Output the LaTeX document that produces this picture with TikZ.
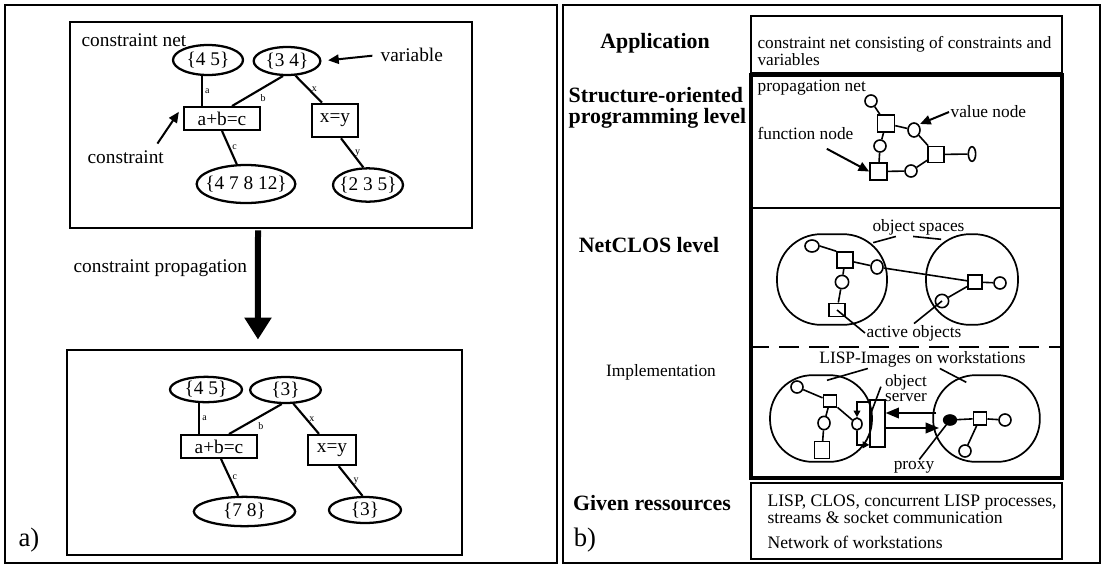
\documentclass[tikz,border=0pt]{standalone}
\usepackage{fontspec}
\setmainfont{Liberation Serif}
\usetikzlibrary{shapes.geometric,arrows.meta}

\begin{document}
\begin{tikzpicture}[x=0.75pt,y=-0.75pt,
        every node/.style={font=\fontsize{13}{13}\selectfont,inner sep=1pt},
        txt/.style={font=\fontsize{14.5}{15}\selectfont},
        panel/.style={draw,line width=1.4pt},
        var/.style={draw,ellipse,line width=1.7pt,inner sep=0pt},
        vtext/.style={label={[font=\fontsize{14.5}{15}\selectfont]center:#1}},
        cons/.style={draw,line width=1.7pt,inner sep=0pt,font=\fontsize{14.5}{15}\selectfont},
        link/.style={line width=1.6pt},
        lbl/.style={font=\fontsize{7.5}{8}\selectfont,inner sep=1.5pt},
        ptr/.style={line width=1.5pt,-{Triangle[length=8pt,width=7pt]}},
        ptrb/.style={line width=1.3pt,-{Triangle[length=10pt,width=8pt]}},
        big/.style={line width=4.5pt,-{Triangle[length=16.5pt,width=19.5pt]}},
        lvl/.style={font=\fontsize{16.4}{15.5}\selectfont\bfseries,align=left},
        obj/.style={draw,ellipse,line width=1.2pt,inner sep=0pt,minimum width=9pt,minimum height=9pt},
        fn/.style={draw,line width=1.2pt,inner sep=0pt,minimum size=11pt},
        ospace/.style={draw,line width=1.3pt,rounded corners=33pt},
        tie/.style={line width=1.2pt}]
    \useasboundingbox (0,0) rectangle (1104,569);

    % a) constraint net before and after propagation
    \draw[panel] (5,5) rectangle (557,563);
    \node[draw,line width=1.7pt,minimum width=301.5pt,minimum height=154.5pt] (net1) at (271,125) {};
    \node[draw,line width=1.7pt,minimum width=296.25pt,minimum height=153.75pt] (net2) at (264.5,452.5) {};

    \node[txt,anchor=west] (cnet) at (80,40) {constraint net};
    \node[var,vtext={\{4 5\}},minimum width=52.5pt,minimum height=22.5pt] (v45) at (208,60) {};
    \node[var,vtext={\{3 4\}},minimum width=50pt,minimum height=21pt] (v34) at (287,61) {};
    \node[txt,anchor=west] (varl) at (379,55) {variable};
    \node[cons,minimum width=57pt,minimum height=17pt] (add) at (222,118.5) {a+b=c};
    \node[cons,minimum width=34.5pt,minimum height=25pt] (eq) at (335,120.5) {x=y};
    \node[var,vtext={\{4 7 8 12\}},minimum width=74pt,minimum height=28.5pt] (v4812) at (246,184) {};
    \node[var,vtext={\{2 3 5\}},minimum width=52.5pt,minimum height=25pt] (v235) at (368,185) {};
    \node[txt,anchor=west] (conl) at (86,157) {constraint};

    \draw[link] ([xshift=-4.5pt]v45.south) -- ([xshift=-4.5pt]v45.south |- add.north) node[lbl,midway,right] {a};
    \draw[link] (v34.255) -- ([xshift=7.5pt]add.north) node[lbl,midway,below right] {b};
    \draw[link] (v34.300) -- ([xshift=-9.75pt]eq.north) node[lbl,midway,right] {x};
    \draw[link] (add.south) -- (v4812.115) node[lbl,midway,right] {c};
    \draw[link] ([xshift=4.5pt]eq.south) -- (v235.105) node[lbl,midway,right] {y};
    \draw[ptr] ([xshift=-6pt,yshift=4pt]conl.north east) -- ([xshift=-3pt,yshift=5pt]add.west);
    \draw[ptr,shorten <=5pt,shorten >=5pt] (varl.west) -- (v34.east);

    \draw[big,shorten <=1pt,shorten >=7pt] ([xshift=-9.75pt]net1.south) -- ([xshift=-4.9pt]net2.north);
    \node[txt,anchor=west] (propl) at (72,268) {constraint propagation};

    \node[var,vtext={\{4 5\}},minimum width=54pt,minimum height=19pt] (w45) at (206,389.5) {};
    \node[var,vtext={\{3\}},minimum width=53pt,minimum height=19.5pt] (w3) at (285.5,390) {};
    \node[cons,minimum width=57pt,minimum height=17pt] (add2) at (219,446.5) {a+b=c};
    \node[cons,minimum width=36pt,minimum height=22.5pt] (eq2) at (332,450) {x=y};
    \node[var,vtext={\{7 8\}},minimum width=76pt,minimum height=22pt] (w78) at (244.5,511.5) {};
    \node[var,vtext={\{3\}},minimum width=54pt,minimum height=19.5pt] (w3b) at (365,510) {};

    \draw[link] ([xshift=-5pt]w45.south) -- ([xshift=-5pt]w45.south |- add2.north) node[lbl,midway,right] {a};
    \draw[link] (w3.255) -- ([xshift=7.5pt]add2.north) node[lbl,midway,below right] {b};
    \draw[link] (w3.300) -- ([xshift=-9.75pt]eq2.north) node[lbl,midway,right] {x};
    \draw[link] ([xshift=1.5pt]add2.south) -- (w78.112) node[lbl,midway,right] {c};
    \draw[link] ([xshift=5pt]eq2.south) -- (w3b.100) node[lbl,midway,right] {y};

    \node[font=\fontsize{20}{20}\selectfont] (pa) at (29,540) {a)};

    % b) layers of the system
    \draw[panel] (563,5) rectangle (1100,563);

    \node[lvl] (lapp) at (655,43) {Application};
    \node[lvl,anchor=west] (lstr) at (567,108) {Structure-oriented\\programming level};
    \node[lvl] (lnet) at (649,245) {NetCLOS level};
    \node (limp) at (661,372) {Implementation};
    \node[lvl] (lgiv) at (652,503) {Given ressources};
    \node[font=\fontsize{20}{20}\selectfont] (pb) at (585,540) {b)};

    \node[draw,line width=1.2pt,minimum width=233.25pt,minimum height=42.75pt] (appbox) at (906.5,44.5) {};
    \node[anchor=west,align=left,font=\fontsize{12.9}{12.75}\selectfont] (appt) at (756,51) {constraint net consisting of constraints and\\variables};

    \node[draw,line width=2.6pt,minimum width=233.25pt,minimum height=302.25pt] (impl) at (906.5,276.5) {};
    \draw[line width=1.4pt] (impl.west |- 0,208) -- (impl.east |- 0,208);
    \draw[line width=1.4pt,dash pattern=on 15pt off 7.5pt] (impl.west |- 0,347) -- (impl.east |- 0,347);

    \node[draw,line width=1.2pt,minimum width=233.25pt,minimum height=57pt] (givbox) at (906.5,521) {};
    \node[anchor=west,align=left,font=\fontsize{13.2}{11.5}\selectfont] (givt) at (766,522) {LISP, CLOS, concurrent LISP processes,\\streams \& socket communication\\[7.25pt]Network of workstations};

    % propagation net
    \node[anchor=west] (pnet) at (756,88) {propagation net};
    \node[anchor=west] (vnode) at (949,112) {value node};
    \node[anchor=west] (fnode) at (756,133) {function node};
    \node[obj] (c1) at (871,101) {};
    \node[fn,minimum size=12.75pt] (s1) at (886,123.5) {};
    \node[obj,minimum height=10.5pt] (c2) at (914,130) {};
    \node[obj] (c3) at (880,146) {};
    \node[fn,minimum size=12pt] (s2) at (936,154.5) {};
    \node[obj,minimum width=5.5pt,minimum height=11pt] (c4) at (972,154) {};
    \node[fn,minimum size=12.75pt] (s3) at (878.5,171.5) {};
    \node[obj] (c5) at (911,171) {};
    \draw[tie] (c1) -- (s1) -- (c2) -- (s2) -- (c4);
    \draw[tie] (s1) -- (c3) -- (s3) -- (c5) -- (s2);
    \draw[ptr,shorten >=1pt] (vnode.west) -- (c2.north east);
    \draw[ptr] ([xshift=16pt,yshift=-6pt]fnode.south) -- (s3.west);

    % object spaces
    \node (ospl) at (918.5,227) {object spaces};
    \node[ospace,minimum width=82.5pt,minimum height=68pt] (lsp) at (832,279.5) {};
    \node[ospace,minimum width=69pt,minimum height=68pt] (rsp) at (972,279.5) {};
    \draw[tie] ([xshift=-17pt]ospl.south) -- ([xshift=-11pt,yshift=-7pt]lsp.north east);
    \draw[tie] ([xshift=-4pt]ospl.south) -- ([xshift=12pt,yshift=-4.5pt]rsp.north west);
    \node[obj,minimum width=10.5pt] (e1) at (812,246) {};
    \node[fn,minimum size=12pt] (q1) at (845,260) {};
    \node[obj,minimum height=10.5pt] (e2) at (877,267) {};
    \node[obj,minimum size=10pt] (e3) at (842,282) {};
    \node[fn,minimum width=12pt,minimum height=10pt] (q2) at (837,310) {};
    \node[fn,minimum size=10.5pt] (q3) at (975,282) {};
    \node[obj] (e5) at (1000,283) {};
    \node[obj,minimum size=10pt] (e4) at (942,301) {};
    \draw[tie] (e1.east) -- (q1.north west);
    \draw[tie] (q1) -- (e2) -- (q3) -- (e5);
    \draw[tie] (q1) -- (e3) -- (q2);
    \draw[tie] (e4) -- (q3);
    \node (aobj) at (914,333) {active objects};
    \draw[tie] (aobj.west) -- (q2.center);
    \draw[tie] (aobj.north) -- (e4.center);

    % implementation
    \node (lisp) at (922.5,359) {LISP-Images on workstations};
    \node[ospace,rounded corners=32pt,minimum width=76.5pt,minimum height=65pt] (lws) at (821,418.5) {};
    \node[ospace,rounded corners=32pt,minimum width=80pt,minimum height=65pt] (rws) at (986.5,418.5) {};
    \draw[tie] ([xshift=-41pt]lisp.south) -- ([xshift=4.5pt,yshift=-4.5pt]lws.north);
    \draw[tie] ([xshift=13pt]lisp.south) -- ([xshift=25.5pt,yshift=-6pt]rws.north west);

    \node[obj] (i1) at (797,387) {};
    \node[fn,minimum width=10pt,minimum height=9pt] (i2) at (830,401) {};
    \node[obj,minimum height=10pt] (i3) at (824,423) {};
    \node[fn,minimum width=11pt,minimum height=12.5pt] (i4) at (822,450) {};
    \node[obj,minimum width=7.5pt,minimum height=9pt] (i5) at (857,424) {};
    \node[fn,minimum width=11pt,minimum height=35pt] (srv) at (877.5,423.5) {};
    \draw[tie] (i1) -- (i2) -- (i3) -- (i4);
    \draw[tie] (i2) -- (i5);
    \draw[tie,-{Triangle[length=5pt,width=5pt]}] ([yshift=16pt]srv.west) -| (i5.north);
    \draw[tie,-{Triangle[length=5pt,width=5pt]}] (i5.south) |- ([yshift=-16pt]srv.west);
    \node[align=center,inner sep=0pt,font=\fontsize{12.8}{11.25}\selectfont] (osrv) at (906,388) {object\\server};
    \draw[tie] ([xshift=-3pt,yshift=1pt]osrv.west) -- ([xshift=1.5pt,yshift=-9.5pt]srv.north west);

    \node[obj,fill=black,minimum width=9.5pt,minimum height=7.5pt] (prox) at (950,420) {};
    \node[fn,minimum size=10pt] (j1) at (980,418.5) {};
    \node[obj] (j2) at (1005,420) {};
    \node[obj] (j3) at (965,451) {};
    \draw[tie] (prox) -- (j1) -- (j2);
    \draw[tie] (j1) -- (j3);
    \draw[ptrb] ([xshift=3pt]rws.west |- 0,413) -- (srv.east |- 0,413);
    \draw[ptrb] (srv.east |- 0,428) -- ([xshift=5pt]rws.west |- 0,428);
    \node (proxl) at (914,467) {proxy};
    \draw[tie] ([xshift=4pt]proxl.north) -- (prox);
\end{tikzpicture}
\end{document}
